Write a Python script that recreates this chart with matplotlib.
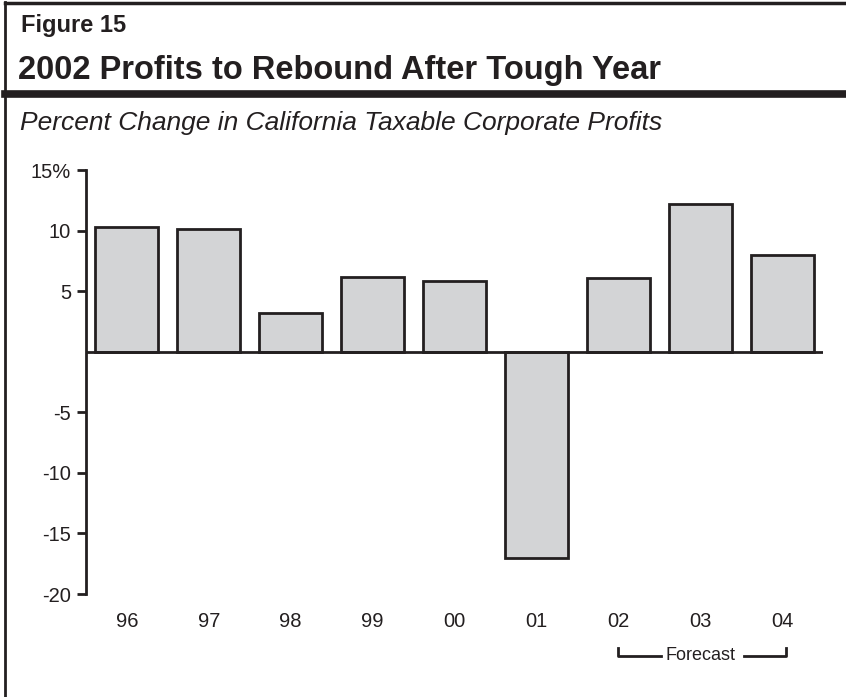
import matplotlib
matplotlib.use("Agg")
import matplotlib.pyplot as plt
from matplotlib.lines import Line2D

plt.rcParams['font.family'] = ['Liberation Sans', 'DejaVu Sans']

years = ['96', '97', '98', '99', '00', '01', '02', '03', '04']
pct_change = [10.3, 10.1, 3.2, 6.2, 5.8, -17.0, 6.1, 12.2, 8.0]
y_ticks = [15, 10, 5, -5, -10, -15, -20]
y_labels = ['15%', '10', '5', '-5', '-10', '-15', '-20']

W, H = 846, 697
fig = plt.figure(figsize=(W / 100, H / 100), dpi=100)

# frame lines (figure pixel coords converted to fractions)
def fx(px): return px / W
def fy(py): return 1 - py / H

fig.add_artist(Line2D([fx(5), fx(5)], [0, fy(2)], color='#231f20', lw=2))
fig.add_artist(Line2D([fx(5), 1], [fy(2.5), fy(2.5)], color='#231f20', lw=2.5))
fig.add_artist(Line2D([fx(5), 1], [fy(93.5), fy(93.5)], color='#231f20', lw=5.5))

fig.text(fx(21), fy(32), 'Figure 15', fontsize=17, fontweight='bold', color='#231f20')
fig.text(fx(18), fy(79), '2002 Profits to Rebound After Tough Year', fontsize=23.5,
         fontweight='bold', color='#231f20')
fig.text(fx(20), fy(130), 'Percent Change in California Taxable Corporate Profits',
         fontsize=19, style='italic', color='#231f20')

ax = fig.add_axes([fx(86), fy(594), fx(823) - fx(86), fy(170) - fy(594)])
x = range(len(years))
ax.bar(x, pct_change, width=0.77, color='#d3d4d6', edgecolor='#231f20', linewidth=2, zorder=2)
ax.axhline(0, color='#231f20', lw=2, zorder=3)

ax.set_xlim(-0.5, 8.5)
ax.set_ylim(-20, 15)
for s in ['top', 'right', 'bottom']:
    ax.spines[s].set_visible(False)
ax.spines['left'].set_linewidth(2)
ax.spines['left'].set_color('#231f20')

ax.set_yticks(y_ticks)
ax.set_yticklabels(y_labels)
ax.tick_params(axis='y', length=6.5, width=2, color='#231f20', labelsize=14.5,
               labelcolor='#231f20', pad=4.3)
ax.set_xticks(list(x))
ax.set_xticklabels(years)
ax.tick_params(axis='x', length=0, labelsize=14.5, labelcolor='#231f20', pad=13)

# forecast bracket
tr = ax.get_xaxis_transform()
yb, yt = -0.146, -0.127
ax.plot([6, 6, 6.52], [yt, yb, yb], color='#231f20', lw=2, transform=tr, clip_on=False)
ax.plot([7.53, 8.05, 8.05], [yb, yb, yt], color='#231f20', lw=2, transform=tr, clip_on=False)
ax.text(7.0, yb, 'Forecast', transform=tr, ha='center', va='center', fontsize=13,
        color='#231f20')

fig.savefig('out.png', dpi=100)
